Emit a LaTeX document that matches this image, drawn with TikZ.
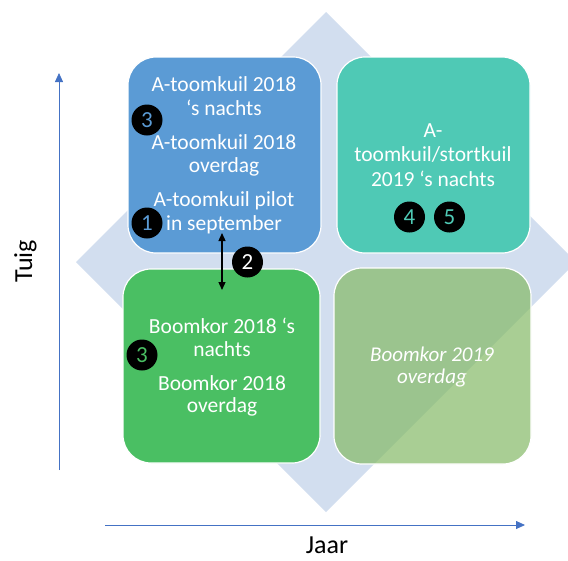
\documentclass[tikz,border=0pt]{standalone}
\usepackage{fontspec}
\setmainfont{Carlito}
\usetikzlibrary{arrows.meta}
\definecolor{diamc}{HTML}{D2DEEF}
\definecolor{bluec}{HTML}{5B9BD5}
\definecolor{tealc}{HTML}{4FC9B5}
\definecolor{greenc}{HTML}{4ABF63}
\definecolor{lgreenc}{HTML}{84B966}
\definecolor{axisc}{HTML}{4472C4}
\tikzset{
  quad/.style={draw=white, line width=1.2pt, rounded corners=28pt, inner sep=0pt},
  lbl/.style={text=white, anchor=base, inner sep=0pt, font=\fontsize{21.5}{23.5}\selectfont},
  ilbl/.style={text=white, anchor=base, inner sep=0pt, font=\fontsize{21}{23}\selectfont\itshape},
  badge/.style={circle, fill=black, minimum size=31pt, inner sep=0pt, font=\fontsize{23}{23}\selectfont},
  axis/.style={draw=axisc, line width=0.8pt, -{Triangle[length=9pt,width=8pt]}},
  axlbl/.style={text=black, inner sep=0pt, font=\fontsize{26}{28}\selectfont}
}
\begin{document}
\begin{tikzpicture}[x=1pt,y=-1pt]
\useasboundingbox (0,0) rectangle (568,560);
\clip (0,0) rectangle (568,560);
% background diamond
\fill[diamc] (326,12) -- (576,262) -- (326,512) -- (76,262) -- cycle;
% quadrants
\node[quad, fill=bluec, minimum width=193pt, minimum height=196pt] (tl) at (224.5,155) {};
\node[quad, fill=tealc, minimum width=193pt, minimum height=196pt] (tr) at (433.5,155) {};
\node[quad, fill=greenc, minimum width=197pt, minimum height=194pt] (bl) at (221.5,366) {};
\node[quad, fill=lgreenc, fill opacity=0.7, minimum width=197pt, minimum height=196pt] (br) at (432.5,366) {};
% top-left texts
\node[lbl] (t1) at (224,91.5) {A-toomkuil 2018};
\node[lbl] (t2) at (224,115.5) {‘s nachts};
\node[lbl] (t3) at (224,149.5) {A-toomkuil 2018};
\node[lbl] (t4) at (224,172) {overdag};
\node[lbl] (t5) at (224,206.5) {A-toomkuil pilot};
\node[lbl] (t6) at (224,230) {in september};
% top-right texts
\node[lbl] (r1) at (433,137.5) {A-};
\node[lbl] (r2) at (433,161.5) {toomkuil/stortkuil};
\node[lbl] (r3) at (433,186) {2019 ‘s nachts};
% bottom-left texts
\node[lbl] (g1) at (222,333) {Boomkor 2018 ‘s};
\node[lbl] (g2) at (222,356) {nachts};
\node[lbl] (g3) at (222,390.5) {Boomkor 2018};
\node[lbl] (g4) at (222,412.5) {overdag};
% bottom-right texts
\node[ilbl] (i1) at (432,361.5) {Boomkor 2019};
\node[ilbl] (i2) at (432,383.5) {overdag};
% double arrow
\coordinate (a1) at (222,233);
\coordinate (a2) at (222,290);
\draw[line width=1.3pt, {Triangle[length=8pt,width=7pt]}-{Triangle[length=8pt,width=7pt]}] (a1) -- (a2);
% badges
\node[badge, text=bluec] (b3a) at (147,120) {3};
\node[badge, text=bluec] (b1) at (147,223) {1};
\node[badge, text=white] (b2) at (247.5,262) {2};
\node[badge, text=greenc] (b3b) at (142,355) {3};
\node[badge, text=tealc] (b4) at (409.5,217) {4};
\node[badge, text=tealc] (b5) at (449.5,217) {5};
% axes
\coordinate (yo) at (59,470);
\coordinate (ytip) at (59,73);
\coordinate (xo) at (105,525);
\coordinate (xtip) at (525,525);
\draw[axis] (yo) -- (ytip);
\draw[axis] (xo) -- (xtip);
\node[axlbl, rotate=90, anchor=base] (tuig) at (32,261.5) {Tuig};
\node[axlbl, anchor=base] (jaar) at (327,553) {Jaar};
\end{tikzpicture}
\end{document}
